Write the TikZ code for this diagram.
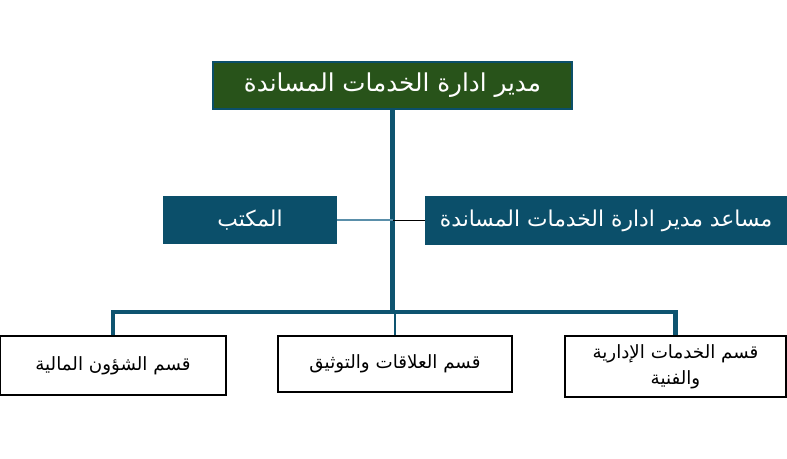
\documentclass[tikz,border=0pt]{standalone}
\usepackage{fontspec}
\newfontfamily\arabicfont[Script=Arabic]{DejaVu Sans}
\TeXXeTstate=1
\definecolor{headgreen}{HTML}{28531A}
\definecolor{teal}{HTML}{0B4F6A}
\definecolor{lineteal}{HTML}{0E5470}
\definecolor{lightteal}{HTML}{5A8FAA}

\begin{document}
\begin{tikzpicture}
 [x=0.025cm, y=-0.025cm,
  head node/.style={rectangle, fill=headgreen, draw=teal, line width=1.4pt, text=white, font=\arabicfont\fontsize{17.5}{20}\selectfont, inner sep=0pt},
  blue node/.style={rectangle, fill=teal, text=white, font=\arabicfont\fontsize{15.5}{18}\selectfont, inner sep=0pt},
  dept node/.style={rectangle, fill=white, draw=black, line width=1.3pt, text=black, align=center, font=\arabicfont\fontsize{13}{18.5}\selectfont, inner sep=0pt},
  trunk/.style={draw=lineteal, line width=3pt},
  thin/.style={line width=0.8pt}]

\useasboundingbox (0,0) rectangle (787,459);

\node[head node, minimum width=8.975cm, minimum height=1.175cm] (head) at (392.5,85.5) {\beginR مدير ادارة الخدمات المساندة\endR};

\node[blue node, minimum width=4.35cm, minimum height=1.2cm] (office) at (250,220) {\beginR المكتب\endR};
\node[blue node, minimum width=9.05cm, minimum height=1.225cm] (asst) at (606,220.5) {\beginR مساعد مدير ادارة الخدمات المساندة\endR};

\node[dept node, minimum width=5.65cm, minimum height=1.475cm] (fin) at (113,365.5) {\beginR قسم الشؤون المالية\endR};
\node[dept node, minimum width=5.85cm, minimum height=1.4cm] (rel) at (395,364) {\beginR قسم العلاقات والتوثيق\endR};
\node[dept node, minimum width=5.525cm, minimum height=1.525cm] (tech) at (675.5,366.5) {\beginR قسم الخدمات الإدارية\endR\\ \beginR والفنية\endR};

\coordinate (bar) at (392.5,312);

% tree lines
\draw[trunk] (head.south) -- (bar);
\draw[trunk] (fin.north) |- (bar) -| (tech.north);
\draw[thin, lineteal] (rel.north) -- (rel.north |- bar);

% side boxes
\draw[thin, lightteal] (office.east) -- (office.east -| head.south);
\draw[thin, black] (asst.west) -- (asst.west -| head.south);

\end{tikzpicture}
\end{document}
